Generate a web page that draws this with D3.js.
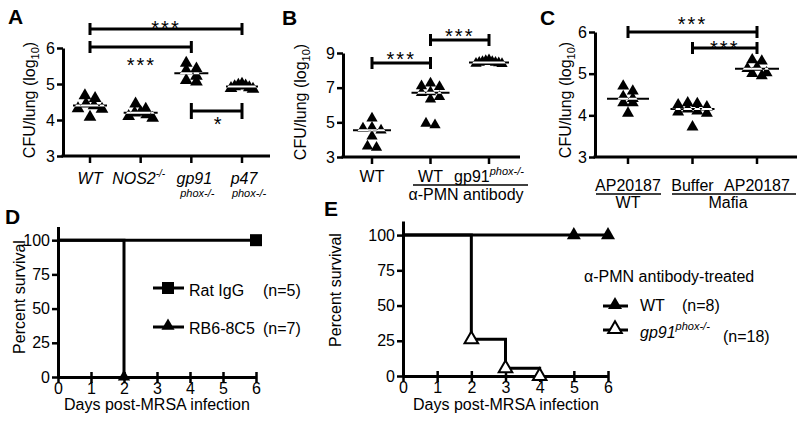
<!DOCTYPE html>
<html><head><meta charset="utf-8">
<script src="https://cdn.jsdelivr.net/npm/d3@7"></script>
<style>
html,body{margin:0;padding:0;background:#fff;}
svg{display:block;font-family:"Liberation Sans",Arial,Helvetica,sans-serif;}
</style></head><body>
<svg id="c" width="800" height="422"></svg>
<script>
// ---------------- DATA ----------------
// Panel A  CFU/lung (log10)
const catsA = ["WT", "NOS2", "gp91", "p47"];
const aWT   = [4.68, 4.6, 4.45, 4.4, 4.32, 4.3, 4.08];
const aNOS2 = [4.45, 4.3, 4.22, 4.2, 4.1, 4.05, 4.15];
const aGp91 = [5.58, 5.42, 5.38, 5.22, 5.1, 5.06];
const aP47  = [5.0, 4.97, 4.95, 4.93, 4.9, 4.88, 4.86];
const ticksA = [3, 4, 5, 6];

// Panel B
const catsB = ["WT", "WT_PMN", "gp91_PMN"];
const bWT    = [5.23, 4.7, 4.66, 4.55, 4.2, 3.62, 3.55];
const bWTPMN = [7.25, 7.1, 7.05, 6.75, 6.7, 6.48, 6.33, 4.94, 4.85];
const bGp91  = [8.6, 8.55, 8.5, 8.45, 8.42, 8.4, 8.38, 8.45, 8.5];
const ticksB = [3, 5, 7, 9];

// Panel C
const catsC = ["AP_WT", "Buffer_Mafia", "AP_Mafia"];
const cWT     = [4.7, 4.58, 4.45, 4.4, 4.3, 4.3, 4.05];
const cBuffer = [4.28, 4.2, 4.1, 4.25, 4.05, 4.3, 3.72, 4.15, 4.08];
const cAP     = [5.3, 5.33, 5.15, 5.02, 4.95, 5.0, 5.12];
const ticksC = [3, 4, 5, 6];

// Panel D survival
const dayTicks = [0, 1, 2, 3, 4, 5, 6];
const survTicks = [0, 25, 50, 75, 100];
const dRatDays = [0, 6],  dRatSurv = [100, 100];
const dRbDays  = [0, 2],  dRbSurv  = [100, 0];
// Panel E survival
const eWTDays = [0, 5, 6],       eWTSurv = [100, 100, 100];
const eGpDays = [0, 2, 3, 4],    eGpSurv = [100, 26, 5.5, 0];

// ---------------- DRAW ----------------
const FONT = '"Liberation Sans", Arial, Helvetica, sans-serif';
const svg = d3.select("#c");
svg.append("rect").attr("width", 800).attr("height", 422).attr("fill", "#fff");
const defs = svg.append("defs");
let clipId = 0;

function txt(x, y, s, opt = {}) {
  const t = svg.append("text").attr("x", x).attr("y", y)
    .attr("font-size", opt.size || 16).attr("font-family", FONT).attr("fill", "#000")
    .attr("text-anchor", opt.anchor || "start");
  if (opt.bold) t.attr("font-weight", "bold");
  if (opt.italic) t.attr("font-style", "italic");
  if (opt.ls) t.attr("letter-spacing", opt.ls);
  t.text(s);
  return t;
}

function yAxis(scale, ticks, x0) {
  const g = svg.append("g").attr("transform", `translate(${x0},0)`)
    .call(d3.axisLeft(scale).tickValues(ticks).tickSize(6).tickPadding(2).tickSizeOuter(0).tickFormat(d3.format("d")));
  g.select(".domain").attr("stroke-width", 3).attr("stroke", "#000");
  g.selectAll(".tick line").attr("stroke-width", 2.5).attr("stroke", "#000");
  g.selectAll(".tick text").attr("font-size", 16).attr("font-family", FONT).attr("fill", "#000");
  return g;
}

function catXAxis(xs, cats, y0, xStart, xEnd) {
  svg.append("line").attr("x1", xStart - 1.5).attr("x2", xEnd).attr("y1", y0).attr("y2", y0)
    .attr("stroke", "#000").attr("stroke-width", 3);
  cats.forEach(c => svg.append("line").attr("x1", xs(c)).attr("x2", xs(c))
    .attr("y1", y0).attr("y2", y0 + 7).attr("stroke", "#000").attr("stroke-width", 2.5));
}

// row-binned horizontal spreading (GraphPad-like), highest points centred
function dodge(vals, ys, w, h, maxSpan) {
  const order = vals.map((v, i) => i).sort((a, b) => ys(vals[a]) - ys(vals[b]));
  const rows = [];
  let cur = null;
  order.forEach(i => {
    const y = ys(vals[i]);
    if (!cur || y - cur.y0 > h * 0.6) { cur = { y0: y, idx: [] }; rows.push(cur); }
    cur.idx.push(i);
  });
  const off = new Array(vals.length);
  rows.forEach(r => {
    const n = r.idx.length;
    const s = n > 1 ? Math.min(w * 0.8, maxSpan / (n - 1)) : 0;
    const slots = d3.range(n).map(j => (j - (n - 1) / 2) * s)
      .sort((a, b) => Math.abs(a) - Math.abs(b) || a - b);
    r.idx.forEach((i, j) => { off[i] = slots[j]; });
  });
  return off;
}

function scatter(xs, ys, cat, vals, size, medW, maxSpan) {
  const side = Math.sqrt(size * 4 / Math.sqrt(3));
  const h = side * Math.sqrt(3) / 2;
  const offs = dodge(vals, ys, side, h, maxSpan);
  const sym = d3.symbol().type(d3.symbolTriangle).size(size);
  const tf = (d, i) => `translate(${xs(cat) + offs[i]},${ys(d)})`;
  svg.append("g").selectAll("path").data(vals).join("path")
    .attr("d", sym).attr("transform", tf).attr("fill", "#000");
  const id = "clip" + (clipId++);
  defs.append("clipPath").attr("id", id).selectAll("path").data(vals).join("path")
    .attr("d", sym).attr("transform", tf);
  const med = d3.median(vals);
  const x1 = xs(cat) - medW / 2, x2 = xs(cat) + medW / 2;
  svg.append("line").attr("x1", x1).attr("x2", x2).attr("y1", ys(med)).attr("y2", ys(med))
    .attr("stroke", "#000").attr("stroke-width", 2);
  svg.append("line").attr("x1", x1).attr("x2", x2).attr("y1", ys(med)).attr("y2", ys(med))
    .attr("stroke", "#fff").attr("stroke-width", 2).attr("clip-path", `url(#${id})`);
}

function sigBar(x1, x2, y, cap, label, ly, lsize) {
  svg.append("line").attr("x1", x1).attr("x2", x2).attr("y1", y).attr("y2", y)
    .attr("stroke", "#000").attr("stroke-width", 3);
  [x1, x2].forEach(x => svg.append("line").attr("x1", x).attr("x2", x)
    .attr("y1", y - cap).attr("y2", y + cap).attr("stroke", "#000").attr("stroke-width", 3));
  if (label) txt((x1 + x2) / 2, ly, label, { anchor: "middle", size: lsize || 20, ls: 2 });
}

function rotTitle(x, y, parts) {
  const t = svg.append("text").attr("transform", `translate(${x},${y}) rotate(-90)`)
    .attr("text-anchor", "middle").attr("font-size", 16).attr("font-family", FONT).attr("fill", "#000");
  parts.forEach(p => {
    const ts = t.append("tspan").text(p.t);
    if (p.sub) ts.attr("font-size", 11).attr("dy", 4);
    if (p.after) ts.attr("dy", -4);
  });
  return t;
}

// ===== Panel A =====
const xA = d3.scalePoint().domain(catsA).range([90, 242]);
const yA = d3.scaleLinear().domain([3, 6]).range([156, 48]);
txt(8, 24, "A", { bold: true, size: 21 });
yAxis(yA, ticksA, 63);
catXAxis(xA, catsA, yA(3), 63, 270);
rotTitle(35, 100, [{ t: "CFU/lung (log" }, { t: "10", sub: true }, { t: ")", after: true }]);
scatter(xA, yA, "WT", aWT, 70, 34, 24);
scatter(xA, yA, "NOS2", aNOS2, 70, 34, 24);
scatter(xA, yA, "gp91", aGp91, 70, 34, 24);
scatter(xA, yA, "p47", aP47, 70, 32, 22);
sigBar(xA("WT"), xA("p47"), 29, 6, "***", 35);
sigBar(xA("WT"), xA("gp91"), 47, 6, "", 0);
txt((xA("WT") + xA("NOS2")) / 2 + 26, 72, "***", { anchor: "middle", size: 20, ls: 2 });
sigBar(xA("gp91"), xA("p47"), 111, 8, "", 0);
txt((xA("gp91") + xA("p47")) / 2 + 1, 131, "*", { anchor: "middle", size: 20 });
// A labels
txt(xA("WT"), 184, "WT", { anchor: "middle", italic: true });
{
  const t = txt(xA("NOS2") - 2, 184, "NOS2", { anchor: "middle", italic: true });
  t.append("tspan").attr("font-size", 10).attr("dy", -7).text("-/-");
}
txt(xA("gp91") + 3, 184, "gp91", { anchor: "middle", italic: true });
txt(xA("gp91") + 6, 197, "phox-/-", { anchor: "middle", italic: true, size: 11 });
txt(xA("p47") + 2, 184, "p47", { anchor: "middle", italic: true });
txt(xA("p47") + 7, 197, "phox-/-", { anchor: "middle", italic: true, size: 11 });

// ===== Panel B =====
const xB = d3.scalePoint().domain(catsB).range([372, 489]);
const yB = d3.scaleLinear().domain([3, 9]).range([157, 53]);
txt(282, 25, "B", { bold: true, size: 21 });
yAxis(yB, ticksB, 343);
catXAxis(xB, catsB, yB(3), 343, 520);
rotTitle(306, 102, [{ t: "CFU/lung (log" }, { t: "10", sub: true }, { t: ")", after: true }]);
scatter(xB, yB, "WT", bWT, 55, 38, 22);
scatter(xB, yB, "WT_PMN", bWTPMN, 55, 38, 22);
scatter(xB, yB, "gp91_PMN", bGp91, 55, 40, 26);
sigBar(xB("WT"), xB("WT_PMN"), 63, 6, "***", 66);
sigBar(xB("WT_PMN"), xB("gp91_PMN"), 40, 6, "***", 43);
txt(xB("WT"), 182, "WT", { anchor: "middle" });
txt(xB("WT_PMN"), 182, "WT", { anchor: "middle" });
{
  const t = txt(xB("gp91_PMN"), 182, "gp91", { anchor: "middle" });
  t.append("tspan").attr("font-size", 11).attr("font-style", "italic").attr("dy", -7).text("phox-/-");
}
svg.append("line").attr("x1", 413).attr("x2", 528).attr("y1", 185).attr("y2", 185)
  .attr("stroke", "#000").attr("stroke-width", 1.5);
txt(466, 200, "α-PMN antibody", { anchor: "middle" });

// ===== Panel C =====
const xC = d3.scalePoint().domain(catsC).range([628, 757]);
const yC = d3.scaleLinear().domain([3, 6]).range([157, 32]);
txt(540, 25, "C", { bold: true, size: 21 });
yAxis(yC, ticksC, 595);
catXAxis(xC, catsC, yC(3), 595, 797);
rotTitle(571, 100, [{ t: "CFU/lung (log" }, { t: "10", sub: true }, { t: ")", after: true }]);
scatter(xC, yC, "AP_WT", cWT, 62, 42, 30);
scatter(xC, yC, "Buffer_Mafia", cBuffer, 62, 44, 38);
scatter(xC, yC, "AP_Mafia", cAP, 62, 44, 30);
sigBar(xC("AP_WT"), xC("AP_Mafia"), 32, 6, "***", 31);
sigBar(xC("Buffer_Mafia"), xC("AP_Mafia"), 48, 6, "***", 55);
txt(xC("AP_WT"), 191, "AP20187", { anchor: "middle" });
txt(xC("Buffer_Mafia"), 191, "Buffer", { anchor: "middle" });
txt(xC("AP_Mafia"), 191, "AP20187", { anchor: "middle" });
svg.append("line").attr("x1", 596).attr("x2", 661).attr("y1", 194).attr("y2", 194)
  .attr("stroke", "#000").attr("stroke-width", 1.5);
svg.append("line").attr("x1", 672).attr("x2", 796).attr("y1", 194).attr("y2", 194)
  .attr("stroke", "#000").attr("stroke-width", 1.5);
txt(xC("AP_WT"), 208, "WT", { anchor: "middle" });
txt(728, 208, "Mafia", { anchor: "middle" });

// ===== survival helpers =====
function survAxes(xs, ys, x0, y0) {
  yAxis(ys, survTicks, x0);
  const g = svg.append("g").attr("transform", `translate(0,${y0})`)
    .call(d3.axisBottom(xs).tickValues(dayTicks).tickSize(6).tickPadding(0).tickSizeOuter(0).tickFormat(d3.format("d")));
  g.select(".domain").attr("stroke-width", 3).attr("stroke", "#000");
  g.selectAll(".tick line").attr("stroke-width", 2.5).attr("stroke", "#000").attr("y1", -5);
  g.selectAll(".tick text").attr("font-size", 16).attr("font-family", FONT).attr("fill", "#000");
}
function survLine(xs, ys, days, surv) {
  const pts = days.map((d, i) => [xs(d), ys(surv[i])]);
  svg.append("path").attr("d", d3.line().curve(d3.curveStepAfter)(pts))
    .attr("fill", "none").attr("stroke", "#000").attr("stroke-width", 3);
}
function marks(xs, ys, days, surv, type, size, open) {
  const sym = d3.symbol().type(type).size(size);
  svg.append("g").selectAll("path").data(days.slice(1)).join("path")
    .attr("d", sym)
    .attr("transform", (d, i) => `translate(${xs(d)},${ys(surv[i + 1])})`)
    .attr("fill", open ? "#fff" : "#000").attr("stroke", "#000").attr("stroke-width", open ? 2 : 0);
}

// ===== Panel D =====
const xD = d3.scaleLinear().domain([0, 6]).range([58, 256]);
const yD = d3.scaleLinear().domain([0, 110]).range([377, 226.5]);
txt(5, 224, "D", { bold: true, size: 21 });
survLine(xD, yD, dRatDays, dRatSurv);
survLine(xD, yD, dRbDays, dRbSurv);
survAxes(xD, yD, 58, 377);
marks(xD, yD, dRatDays, dRatSurv, d3.symbolSquare, 144);
marks(xD, yD, dRbDays, dRbSurv, d3.symbolTriangle, 66);
txt(157, 410, "Days post-MRSA infection", { anchor: "middle" });
rotTitle(25, 297, [{ t: "Percent survival" }]);
// legend D
svg.append("line").attr("x1", 153).attr("x2", 184).attr("y1", 288).attr("y2", 288).attr("stroke", "#000").attr("stroke-width", 3);
svg.append("path").attr("d", d3.symbol().type(d3.symbolSquare).size(144)).attr("transform", "translate(168,288)");
txt(189, 296, "Rat IgG");
txt(263, 296, "(n=5)");
svg.append("line").attr("x1", 153).attr("x2", 184).attr("y1", 327).attr("y2", 327).attr("stroke", "#000").attr("stroke-width", 3);
svg.append("path").attr("d", d3.symbol().type(d3.symbolTriangle).size(75)).attr("transform", "translate(168,326)");
txt(189, 334, "RB6-8C5");
txt(263, 334, "(n=7)");

// ===== Panel E =====
const xE = d3.scaleLinear().domain([0, 6]).range([403, 608]);
const yE = d3.scaleLinear().domain([0, 110]).range([376, 221]);
txt(324, 216, "E", { bold: true, size: 21 });
survLine(xE, yE, eWTDays, eWTSurv);
survLine(xE, yE, eGpDays, eGpSurv);
survAxes(xE, yE, 403, 376);
marks(xE, yE, eWTDays, eWTSurv, d3.symbolTriangle, 85);
marks(xE, yE, eGpDays, eGpSurv, d3.symbolTriangle, 80, true);
txt(506, 410, "Days post-MRSA infection", { anchor: "middle" });
rotTitle(341, 290, [{ t: "Percent survival" }]);
// legend E
txt(584, 282, "α-PMN antibody-treated");
svg.append("line").attr("x1", 603).attr("x2", 628).attr("y1", 306).attr("y2", 306).attr("stroke", "#000").attr("stroke-width", 3);
svg.append("path").attr("d", d3.symbol().type(d3.symbolTriangle).size(85)).attr("transform", "translate(615,305)");
txt(640, 311, "WT");
txt(682, 311, "(n=8)");
svg.append("line").attr("x1", 603).attr("x2", 628).attr("y1", 330).attr("y2", 330).attr("stroke", "#000").attr("stroke-width", 3);
svg.append("path").attr("d", d3.symbol().type(d3.symbolTriangle).size(80)).attr("transform", "translate(615,329)")
  .attr("fill", "#fff").attr("stroke", "#000").attr("stroke-width", 2);
{
  const t = txt(640, 338, "gp91", { italic: true });
  t.append("tspan").attr("font-size", 11).attr("dy", -8).text("phox-/-");
}
txt(723, 342, "(n=18)");
</script>
</body></html>
